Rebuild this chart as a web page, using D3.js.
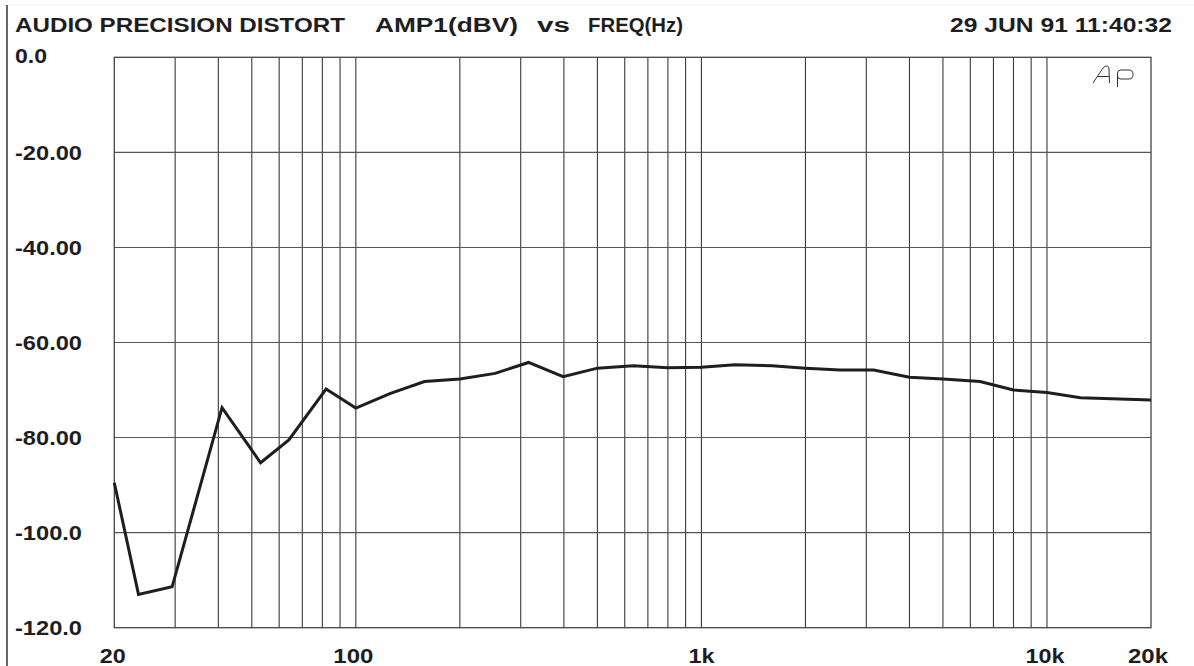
<!DOCTYPE html>
<html>
<head>
<meta charset="utf-8">
<script src="https://cdn.jsdelivr.net/npm/d3@7"></script>
<style>
html,body{margin:0;padding:0;background:#fff;}
svg{display:block;}
text{font-family:"Liberation Sans",Arial,sans-serif;font-weight:bold;fill:#1e1e1e;}
</style>
</head>
<body>
<svg id="chart" width="1194" height="666"></svg>
<script>
// ---- data ----
const freqs = [20, 23.5, 29.4, 41, 53, 64, 82, 100, 126, 158, 200, 253, 316, 398, 500, 635, 800, 1000, 1250, 1600, 2000, 2520, 3150, 4000, 5000, 6400, 8000, 10000, 12500, 20000];
const amp1 = [-89.5, -113.0, -111.4, -73.7, -85.3, -80.5, -69.8, -73.8, -70.7, -68.2, -67.7, -66.5, -64.2, -67.2, -65.4, -64.9, -65.3, -65.2, -64.7, -64.9, -65.4, -65.8, -65.8, -67.3, -67.7, -68.2, -70.0, -70.5, -71.6, -72.1];
const yTicks = [0, -20, -40, -60, -80, -100, -120];
const yTickLabels = ["0.0", "-20.00", "-40.00", "-60.00", "-80.00", "-100.0", "-120.0"];
const xTicks = [20, 100, 1000, 10000, 20000];
const xTickLabels = ["20", "100", "1k", "10k", "20k"];
const gridFreqs = [30, 40, 50, 60, 70, 80, 90, 100, 200, 300, 400, 500, 600, 700, 800, 900, 1000, 2000, 3000, 4000, 5000, 6000, 7000, 8000, 9000, 10000];
const titleParts = ["AUDIO PRECISION DISTORT", "AMP1(dBV)", "vs", "FREQ(Hz)"];
const dateText = "29 JUN 91 11:40:32";

// ---- layout ----
const L = 114.3, R = 1151, T = 57.3, B = 627.7;
const svg = d3.select("#chart");
const x = d3.scaleLog().domain([20, 20000]).range([L, R]);
const y = d3.scaleLinear().domain([0, -120]).range([T, B]);

// outer frame lines
svg.append("line").attr("x1", 0).attr("x2", 1194).attr("y1", 5).attr("y2", 5)
  .attr("stroke", "#f2f2f2").attr("stroke-width", 1);
svg.append("line").attr("x1", 7).attr("x2", 7).attr("y1", 5).attr("y2", 666)
  .attr("stroke", "#333").attr("stroke-width", 1.5);

// grid
const g = svg.append("g");
g.selectAll("line.v").data(gridFreqs).enter().append("line")
  .attr("x1", d => x(d)).attr("x2", d => x(d)).attr("y1", T).attr("y2", B)
  .attr("stroke", "#3a3a3a").attr("stroke-width", 1.1);
g.selectAll("line.h").data(yTicks.slice(1, -1)).enter().append("line")
  .attr("x1", L).attr("x2", R).attr("y1", d => y(d)).attr("y2", d => y(d))
  .attr("stroke", "#555").attr("stroke-width", 1.1);
g.append("rect").attr("x", L).attr("y", T).attr("width", R - L).attr("height", B - T)
  .attr("fill", "none").attr("stroke", "#444").attr("stroke-width", 1.3);

// stretched text helper
function stext(str, x0, yb, width, fs, anchor) {
  const t = svg.append("text").attr("y", yb).attr("font-size", fs)
    .attr("textLength", width).attr("lengthAdjust", "spacingAndGlyphs").text(str);
  t.attr("x", anchor === "middle" ? x0 - width / 2 : x0);
  return t;
}

// title
const titlePos = [[15, 330], [375, 143], [537, 33], [588, 95]];
titleParts.forEach((s, i) => stext(s, titlePos[i][0], 32, titlePos[i][1], 20));
stext(dateText, 950, 32, 222, 20);

// y labels
const yW = [32, 67, 67, 67, 67, 67, 67];
yTicks.forEach((v, i) => stext(yTickLabels[i], 15, y(v) + 7.3 - (i === 0 ? 2 : 0), yW[i], 20.5));

// x labels
const xW = [26, 40, 26, 39, 40];
const xOff = [-1.5, -2.5, 0, -2, -3];
xTicks.forEach((f, i) => stext(xTickLabels[i], x(f) + xOff[i], 662.5, xW[i], 20.5, "middle"));

// Ap logo
const logo = svg.append("g").attr("fill", "none").attr("stroke", "#333").attr("stroke-width", 1);
logo.append("path").attr("d", "M1093,83 L1103,68 Q1105,65.5 1107.5,66 Q1109,66.5 1109,69 L1109.5,83 M1097.5,76.5 L1109,76.5");
logo.append("path").attr("d", "M1117.5,87 L1117.5,73 Q1117.5,70 1121,70 L1129,70 Q1133,70 1133,74.5 Q1133,79 1129,79 L1121,79 Q1117.5,79 1117.5,76");

// curve
const line = d3.line().x((d, i) => x(freqs[i])).y(d => y(d));
svg.append("path").datum(amp1).attr("d", line)
  .attr("fill", "none").attr("stroke", "#1e1e1e").attr("stroke-width", 3)
  .attr("stroke-linejoin", "miter");
</script>
</body>
</html>
